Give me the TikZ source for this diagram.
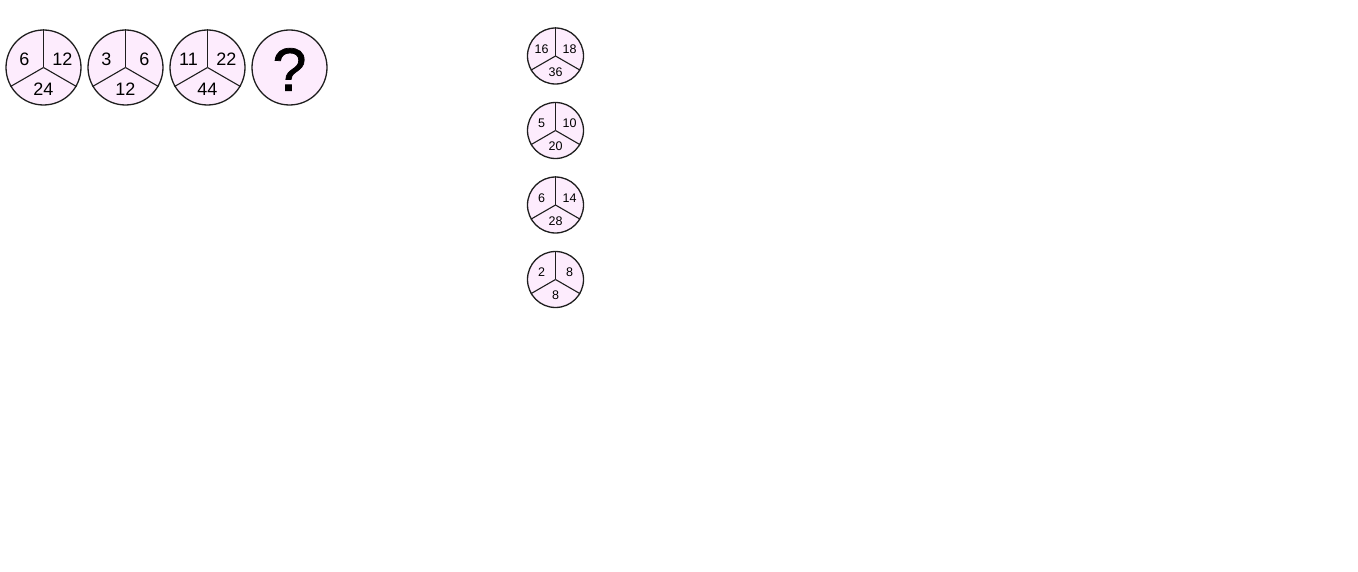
\documentclass[tikz,border=0pt]{standalone}
\usepackage{fontspec}
\setmainfont{Liberation Sans}
\newfontfamily\qfont[FakeBold=1.2]{Liberation Sans}
\definecolor{pinkfill}{RGB}{253,236,253}
\definecolor{edge}{RGB}{30,30,30}
\begin{document}
\begin{tikzpicture}[x=1pt,y=-1pt,
  disc/.style={circle,draw=edge,fill=pinkfill,line width=1.3pt,minimum size=#1,inner sep=0pt},
  divider/.style={draw=edge,line width=1.1pt},
  bignum/.style={font=\fontsize{18}{18}\selectfont,inner sep=0pt},
  smallnum/.style={font=\fontsize{12.5}{12.5}\selectfont,inner sep=0pt}]
\useasboundingbox (0,0) rectangle (1358,572);
% big circles
\foreach \n/\cx/\a/\b/\c in {b1/43.5/6/12/24, b2/125.5/3/6/12, b3/207.5/11/22/44}{
  \node[disc=75pt] (\n) at (\cx,67.5) {};
  \draw[divider] (\n.center) -- (\n.north);
  \draw[divider] (\n.center) -- (\n.210);
  \draw[divider] (\n.center) -- (\n.330);
  \node[bignum] (\n-l) at ([shift={(-19,-8)}]\n.center) {\a};
  \node[bignum] (\n-r) at ([shift={(19,-8)}]\n.center) {\b};
  \node[bignum] (\n-b) at ([shift={(0,22)}]\n.center) {\c};
}
\node[disc=75pt] (b4) at (289.5,67.5) {};
\node[font=\qfont\fontsize{61}{61}\selectfont,inner sep=0pt] (q) at (289.5,69.5) {?};
% small circles
\foreach \n/\cy/\a/\b/\c in {s1/56/16/18/36, s2/130.5/5/10/20, s3/205/6/14/28, s4/279.5/2/8/8}{
  \node[disc=56pt] (\n) at (555.5,\cy) {};
  \draw[divider] (\n.center) -- (\n.north);
  \draw[divider] (\n.center) -- (\n.210);
  \draw[divider] (\n.center) -- (\n.330);
  \node[smallnum] (\n-l) at ([shift={(-14,-7)}]\n.center) {\a};
  \node[smallnum] (\n-r) at ([shift={(14,-7)}]\n.center) {\b};
  \node[smallnum] (\n-b) at ([shift={(0,16)}]\n.center) {\c};
}
\end{tikzpicture}
\end{document}
